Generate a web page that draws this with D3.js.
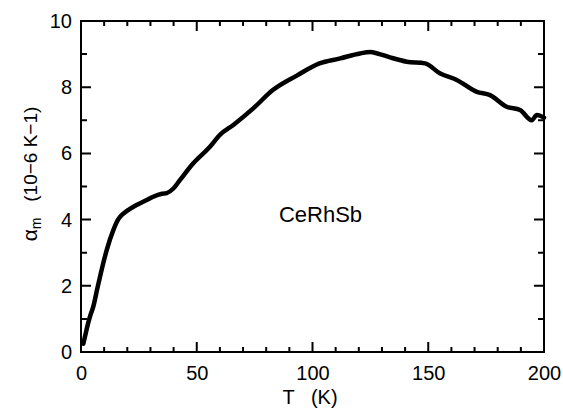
<!DOCTYPE html>
<html>
<head>
<meta charset="utf-8">
<script src="https://cdn.jsdelivr.net/npm/d3@7"></script>
<style>
  body { margin: 0; background: #fff; }
  text { font-family: "Liberation Sans", Arial, sans-serif; fill: #000; }
</style>
</head>
<body>
<div id="chart"></div>
<script>
// temperature (K) and thermal expansion (10^-6 K^-1)
const temps = [1, 2, 3, 4, 5.3, 7, 8.9, 11.1, 14, 16, 17.6, 20, 24, 28.4, 31.2, 35, 37, 39.9,
  42.8, 48.5, 55.7, 60, 65.8, 74.4, 83, 93.2, 103, 112, 120.5, 125, 128, 133.5, 140.7,
  148.6, 155, 162.3, 171, 176.7, 183.9, 189.7, 194.7, 196.9, 200];
const alphas = [0.25, 0.55, 0.85, 1.1, 1.37, 1.9, 2.48, 3.08, 3.69, 4.0, 4.14, 4.27, 4.44, 4.59, 4.69, 4.78, 4.8, 4.94,
  5.2, 5.7, 6.2, 6.56, 6.86, 7.36, 7.92, 8.35, 8.72, 8.87, 9.02, 9.06, 9.02, 8.9, 8.77,
  8.72, 8.42, 8.22, 7.86, 7.76, 7.41, 7.31, 7.0, 7.16, 7.08];
const xTicks = [0, 50, 100, 150, 200];
const yTicks = [0, 2, 4, 6, 8, 10];

const width = 563, height = 409;
const margin = { top: 21, right: 19, bottom: 57, left: 81 };
const innerWidth = width - margin.left - margin.right;
const innerHeight = height - margin.top - margin.bottom;

const points = temps.map((t, i) => ({ t: t, a: alphas[i] }));

const x = d3.scaleLinear().domain([0, 200]).range([0, innerWidth]);
const y = d3.scaleLinear().domain([0, 10]).range([innerHeight, 0]);

const svg = d3.select("#chart").append("svg")
    .attr("width", width)
    .attr("height", height);

const g = svg.append("g")
    .attr("transform", `translate(${margin.left}, ${margin.top})`);

const minorX = d3.range(0, 201, 10).filter(v => v % 50 !== 0);
const minorY = d3.range(0, 11, 1).filter(v => v % 2 !== 0);

// tick labels only
g.append("g").attr("transform", `translate(0, ${innerHeight})`)
    .call(d3.axisBottom(x).tickValues(xTicks).tickSize(0).tickPadding(14).tickFormat(d3.format("d")))
    .call(s => s.select(".domain").remove())
    .call(s => s.selectAll(".tick text").style("font-size", "20px"));
g.append("g")
    .call(d3.axisLeft(y).tickValues(yTicks).tickSize(0).tickPadding(9).tickFormat(d3.format("d")))
    .call(s => s.select(".domain").remove())
    .call(s => s.selectAll(".tick text").style("font-size", "20px"));

// inward tick marks on all four sides, drawn as one path
const xMarks = xTicks.map(v => ({ v: v, len: 10 })).concat(minorX.map(v => ({ v: v, len: 5 })));
const yMarks = yTicks.map(v => ({ v: v, len: 10 })).concat(minorY.map(v => ({ v: v, len: 6 })));
const tickPath = d3.path();
xMarks.forEach(d => {
    tickPath.moveTo(x(d.v), innerHeight); tickPath.lineTo(x(d.v), innerHeight - d.len);
    tickPath.moveTo(x(d.v), 0); tickPath.lineTo(x(d.v), d.len);
});
yMarks.forEach(d => {
    tickPath.moveTo(0, y(d.v)); tickPath.lineTo(d.len, y(d.v));
    tickPath.moveTo(innerWidth, y(d.v)); tickPath.lineTo(innerWidth - d.len, y(d.v));
});
g.append("path")
    .attr("d", tickPath.toString())
    .attr("fill", "none")
    .attr("stroke", "#000")
    .attr("stroke-width", 2);

g.append("rect")
    .attr("width", innerWidth)
    .attr("height", innerHeight)
    .attr("fill", "none")
    .attr("stroke", "#000")
    .attr("stroke-width", 2);

// data curve
const line = d3.line()
    .x(d => x(d.t))
    .y(d => y(d.a))
    .curve(d3.curveMonotoneX);

g.append("path")
    .datum(points)
    .attr("fill", "none")
    .attr("stroke", "#000")
    .attr("stroke-width", 4.5)
    .attr("stroke-linecap", "round")
    .attr("stroke-linejoin", "round")
    .attr("d", line);

g.append("text")
    .attr("x", x(85.5))
    .attr("y", y(3.92))
    .style("font-size", "22px")
    .text("CeRhSb");

// axis labels
svg.append("text")
    .attr("x", 310)
    .attr("y", 404)
    .attr("text-anchor", "middle")
    .style("font-size", "20px")
    .style("white-space", "pre")
    .text("T   (K)");

const yLabel = svg.append("text")
    .attr("transform", "translate(37, 174) rotate(-90)")
    .attr("text-anchor", "middle")
    .style("font-size", "19px")
    .style("white-space", "pre");
yLabel.append("tspan").style("font-size", "21px").text("α");
yLabel.append("tspan").attr("dy", 4).style("font-size", "14px").text("m");
yLabel.append("tspan").attr("dy", -4).text("   (10−6 K−1)");
</script>
</body>
</html>
